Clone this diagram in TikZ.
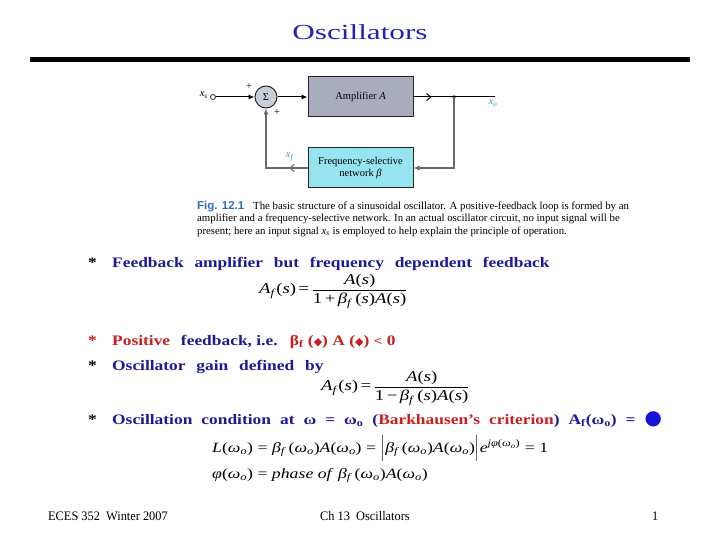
\documentclass[tikz,border=0pt]{standalone}
\usepackage{fontspec}
\usepackage{amsmath}
\setmainfont{Liberation Serif}
\newfontfamily\titlef{Liberation Serif}[FakeStretch=1.45]
\newfontfamily\bodyf{Liberation Serif}[FakeStretch=1.2]
\newfontfamily\eqf{Liberation Serif}[FakeStretch=1.25]
\newfontfamily\capf{Liberation Serif}
\newfontfamily\figf{Liberation Sans}
\newfontfamily\symf{DejaVu Sans}
\newfontfamily\footf{Liberation Serif}[FakeStretch=0.95]
\usetikzlibrary{arrows.meta,decorations.markings,calc}
\definecolor{navy}{HTML}{1A1A96}
\definecolor{redt}{HTML}{C81E1E}
\definecolor{titleblue}{HTML}{2222B8}
\definecolor{cyanfill}{HTML}{96E4F0}
\definecolor{ampfill}{HTML}{A9ADBB}
\definecolor{sigfill}{HTML}{C9CDD8}
\definecolor{labcyan}{HTML}{3AA0C0}
\definecolor{figblue}{HTML}{2E6EB5}
\definecolor{dotblue}{HTML}{1414D8}
\definecolor{lineg}{HTML}{6A6A6A}
\newcommand\itx[1]{\textit{#1}}
\newcommand\bulfont{\bodyf\bfseries\fontsize{14.5}{17}\selectfont\spaceskip=10.8pt\relax}
\newcommand\bulfontb{\bodyf\bfseries\fontsize{14.5}{17}\selectfont\spaceskip=9pt\relax}
\newcommand\eqfont{\eqf\fontsize{15}{17}\selectfont}
\newcommand\eqfontb{\eqf\fontsize{14.2}{17}\selectfont}
\newcommand\dgfont{\capf\fontsize{10.5}{12}\selectfont}
\newcommand\cpfont{\capf\fontsize{10.8}{12}\selectfont}
\newcommand\womg{\itx{ω}\textsubscript{\itx{o}}}
\newcommand\betf{\itx{β}\textsubscript{\itx{f}}}
\newcommand\nsp{\spaceskip=0pt\relax}
\newcommand\dmd{{\symf\fontsize{11}{12}\selectfont◆}}
\begin{document}
\begin{tikzpicture}[x=1pt,y=-1pt,
  bul/.style={anchor=base west, inner sep=0, font=\bulfont},
  eqn/.style={inner sep=0, font=\eqfont},
  capn/.style={anchor=base west, inner sep=0, font=\cpfont},
  foot/.style={anchor=base west, inner sep=0, font=\footf\fontsize{13}{15}\selectfont},
  blk/.style={draw=black!85, line width=1pt, align=center, font=\dgfont, minimum width=105pt, minimum height=40pt},
  wire/.style={line width=1pt},
  gwire/.style={line width=1.1pt, draw=lineg},
  tip/.style={-{Latex[length=6pt,width=5pt]}},
  lab/.style={inner sep=0, font=\dgfont}
]
\useasboundingbox (0,0) rectangle (720,540);
% title and rule
\node[inner sep=0, anchor=base, text=titleblue, font=\titlef\fontsize{21.5}{24}\selectfont] (title) at (360,40) {Oscillators};
\fill (30,57) rectangle (690,62);

% block diagram
\node[circle, draw=black!85, line width=1pt, fill=sigfill, minimum size=22pt, inner sep=0, font=\dgfont] (sig) at (266,97) {Σ};
\node[blk, fill=ampfill] (amp) at (360.5,97) {Amplifier \itx{A}};
\node[blk, fill=cyanfill] (fb) at (360.5,168) {Frequency-selective\\network \itx{β}};
\node[circle, draw=black!85, line width=0.8pt, inner sep=0, minimum size=5pt] (in) at (213,97) {};
\node[lab, anchor=east] (xs) at (208,95) {\itx{x}\textsubscript{\itx{s}}};
\node[lab] (p1) at (249,87) {+};
\node[lab] (p2) at (277,113) {+};
\node[lab, text=labcyan] (xo) at (493,103) {\itx{x}\textsubscript{\itx{o}}};
\node[lab, text=labcyan] (xf) at (290,157) {\itx{x}\textsubscript{\itx{f}}};
\coordinate (dot) at (454,97);
\coordinate (out) at (495,97);
\draw[wire, tip] (in) -- (sig);
\draw[wire, tip] (sig) -- (amp);
\draw[wire, postaction={decorate}, decoration={markings, mark=at position 0.22 with {\arrow{Straight Barb[length=4pt,width=7pt]}}}] (amp.east) -- (out);
\fill (dot) circle (1.8);
\draw[gwire, tip] (dot) |- (fb.east);
\draw[gwire, tip, postaction={decorate}, decoration={markings, mark=at position 0.18 with {\arrow{Straight Barb[length=4pt,width=7pt]}}}] (fb.west) -| (sig.south);

% caption
\node[capn, text=figblue, font=\figf\bfseries\fontsize{11.5}{13}\selectfont] (fig) at (197,210) {Fig. 12.1};
\node[capn] (c1) at (253,210) {The basic structure of a sinusoidal oscillator. A positive-feedback loop is formed by an};
\node[capn] (c2) at (197,222) {amplifier and a frequency-selective network. In an actual oscillator circuit, no input signal will be};
\node[capn] (c3) at (197,234) {present; here an input signal \itx{x}\textsubscript{\itx{s}} is employed to help explain the principle of operation.};

% bullet 1
\node[bul] (s1) at (88,267) {*};
\node[bul, text=navy] (b1) at (112,267) {Feedback amplifier but frequency dependent feedback};
\node[eqn, anchor=west] (eq1) at (259,291) {\itx{A}\textsubscript{\itx{f}}(\itx{s})\,=\,${\displaystyle\frac{\mbox{\itx{A}(\itx{s})}}{\mbox{1\,+\,\betf\,(\itx{s})\itx{A}(\itx{s})}}}$};

% bullet 2, 3
\node[bul, text=redt] (s2) at (88,345) {*};
\node[bul, text=navy] (b2) at (112,345) {\textcolor{redt}{Positive} {\nsp feedback, i.e.} {\nsp\color{redt}β\textsubscript{f} (\dmd) A (\dmd) {\fontsize{13}{15}\selectfont<} 0}};
\node[bul] (s3) at (88,370) {*};
\node[bul, text=navy] (b3) at (112,370) {Oscillator gain defined by};
\node[eqn, anchor=west] (eq2) at (321,388) {\itx{A}\textsubscript{\itx{f}}(\itx{s})\,=\,${\displaystyle\frac{\mbox{\itx{A}(\itx{s})}}{\mbox{1\,−\,\betf\,(\itx{s})\itx{A}(\itx{s})}}}$};

% bullet 4
\node[bul] (s4) at (88,424) {*};
\node[bul, text=navy, font=\bulfontb] (b4) at (112,424) {Oscillation condition at ω = ω\textsubscript{o} (\textcolor{redt}{Barkhausen’s criterion}) A\textsubscript{f}(ω\textsubscript{o}) = \textcolor{dotblue}{\symf\fontsize{20}{20}\selectfont●}};
\node[eqn, anchor=base west, font=\eqfontb] (eqL) at (212,452) {\itx{L}(\womg) = \betf\,(\womg)\itx{A}(\womg) = $\Bigl|$\betf\,(\womg)\itx{A}(\womg)$\Bigr|$\itx{e}\textsuperscript{\itx{jφ}(\womg)} = 1};
\node[eqn, anchor=base west, font=\eqfontb] (eqP) at (212,478) {\itx{φ}(\womg) = \itx{phase of} \betf\,(\womg)\itx{A}(\womg)};

% footer
\node[foot] (f1) at (48,520) {ECES 352\ \ Winter 2007};
\node[foot] (f2) at (320,520) {Ch 13\ \ Oscillators};
\node[foot] (f3) at (652,520) {1};
\end{tikzpicture}
\end{document}
